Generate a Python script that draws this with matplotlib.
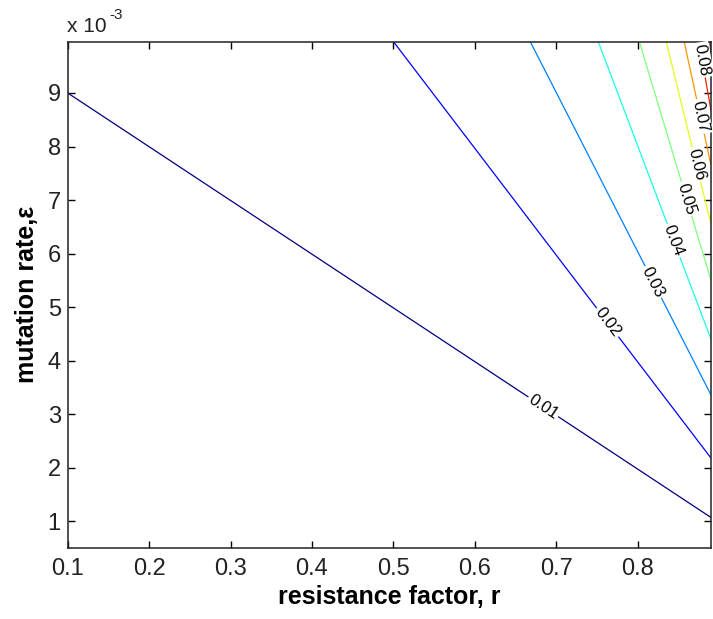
import numpy as np
import matplotlib
matplotlib.use('Agg')
import matplotlib.pyplot as plt

plt.rcParams['font.family'] = ['Liberation Sans', 'DejaVu Sans']

# contour levels and where each line enters / leaves the plot box
levels = [0.01, 0.02, 0.03, 0.04, 0.05, 0.06, 0.07, 0.08, 0.09]
r_start = [0.100, 0.500, 0.668, 0.7515, 0.802, 0.835, 0.857, 0.875, 0.8885]
eps_start = [0.00900, 0.00996, 0.00996, 0.00996, 0.00996, 0.00996, 0.00996, 0.00996, 0.00996]
r_end = [0.89, 0.89, 0.89, 0.89, 0.89, 0.89, 0.89, 0.89, 0.89]
eps_end = [0.00107, 0.00218, 0.00336, 0.00440, 0.00550, 0.00655, 0.00765, 0.00868, 0.00975]

# where the inline labels sit (r along each line)
label_levels = ['0.01', '0.02', '0.03', '0.04', '0.05', '0.06', '0.07', '0.08']
label_r = [0.684, 0.763, 0.819, 0.844, 0.860, 0.872, 0.877, 0.879]

xticks = [0.1, 0.2, 0.3, 0.4, 0.5, 0.6, 0.7, 0.8]
yticks = [1, 2, 3, 4, 5, 6, 7, 8, 9]

fig = plt.figure(figsize=(7.13, 6.19), dpi=100)
ax = fig.add_axes([67.7 / 713, 1 - 548 / 619, (711 - 67.7) / 713, (548 - 41.6) / 619])
ax.set_xlim(0.1, 0.89)
ax.set_ylim(0.0005, 0.00996)

colors = plt.cm.jet(np.linspace(0, 1, len(levels)))
for i in range(len(levels)):
    ax.plot([r_start[i], r_end[i]], [eps_start[i], eps_end[i]], color=colors[i], lw=0.9)

for i in range(len(label_levels)):
    xs = [r_start[i], r_end[i]]
    ys = [eps_start[i], eps_end[i]]
    y = np.interp(label_r[i], xs, ys)
    p = ax.transData.transform(np.column_stack([xs, ys]))
    ang = np.degrees(np.arctan2(p[1, 1] - p[0, 1], p[1, 0] - p[0, 0]))
    ax.text(label_r[i], y, label_levels[i], rotation=ang, rotation_mode='anchor',
            ha='center', va='center', fontsize=12,
            bbox=dict(boxstyle='square,pad=0.1', fc='white', ec='none'))

ax.set_xticks(xticks)
ax.set_xticklabels([str(t) for t in xticks])
ax.set_yticks([t * 1e-3 for t in yticks])
ax.set_yticklabels([str(t) for t in yticks])
ax.tick_params(direction='in', length=5, width=1, labelsize=17, top=True, right=True,
               labelcolor='#222222')
ax.tick_params(axis='x', pad=7)
ax.tick_params(axis='y', pad=5)
for s in ax.spines.values():
    s.set_linewidth(1.1)
    s.set_color('#222222')

ax.set_xlabel('resistance factor, r', fontsize=18, fontweight='bold', labelpad=4)
ax.set_ylabel('mutation rate,\u03b5', fontsize=18, fontweight='bold', labelpad=6)

fig.text(67 / 713, 1 - 32 / 619, 'x 10', fontsize=15, va='baseline', color='#222222')
fig.text(109 / 713, 1 - 19 / 619, '-3', fontsize=11, va='baseline', color='#222222')

fig.savefig('out.png', dpi=100)
